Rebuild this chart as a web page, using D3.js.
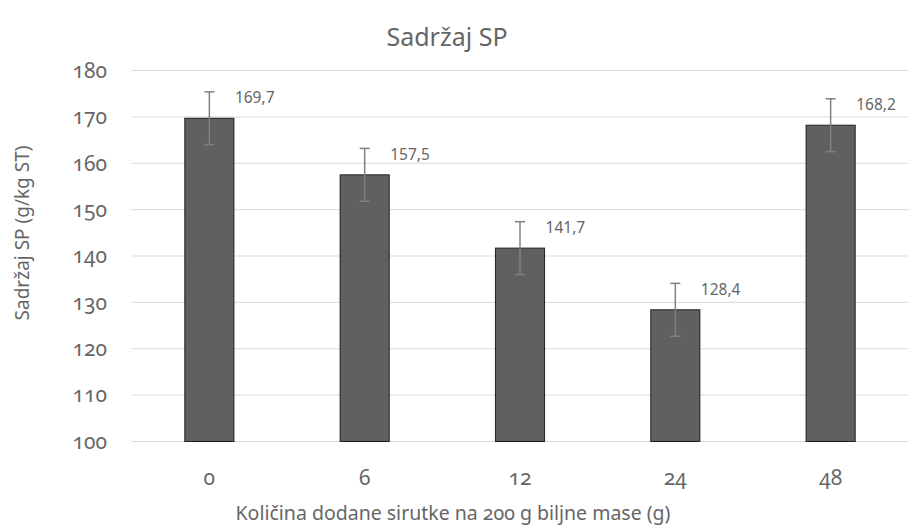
<!DOCTYPE html>
<html>
<head>
<meta charset="utf-8">
<script src="https://cdn.jsdelivr.net/npm/d3@7/dist/d3.min.js"></script>
<style>
  html, body { margin: 0; padding: 0; background: #fff; }
  svg { display: block; }
  .tick-old { font-variant-numeric: oldstyle-nums; font-feature-settings: "onum" 1; }
</style>
</head>
<body>
<svg id="chart" width="912" height="526"></svg>
<script>
const categories = ["0", "6", "12", "24", "48"];
const values = [169.7, 157.5, 141.7, 128.4, 168.2];
const errors = [5.7, 5.7, 5.7, 5.7, 5.7];
const dataLabels = ["169,7", "157,5", "141,7", "128,4", "168,2"];
const yTicks = [100, 110, 120, 130, 140, 150, 160, 170, 180];
const titleText = "Sadržaj SP";
const xTitle = "Količina dodane sirutke na 200 g biljne mase (g)";
const yTitle = "Sadržaj SP (g/kg ST)";

const svg = d3.select("#chart");
const fontFam = "'Noto Sans', 'Open Sans', sans-serif";
const textColor = "#666666";

const plot = { left: 131.7, right: 908.3, top: 70.5, bottom: 441.5 };

const x = d3.scaleBand().domain(categories).range([plot.left, plot.right]).padding(0);
const y = d3.scaleLinear().domain([100, 180]).range([plot.bottom, plot.top]);
const barW = x.bandwidth() * 0.316;

// gridlines
svg.append("g").selectAll("line").data(yTicks).join("line")
  .attr("x1", plot.left).attr("x2", plot.right)
  .attr("y1", d => y(d)).attr("y2", d => y(d))
  .attr("stroke", "#d9d9d9").attr("stroke-width", 1);

// y tick labels
svg.append("g").selectAll("text").data(yTicks).join("text")
  .attr("class", "tick-old")
  .attr("x", 107).attr("y", d => y(d))
  .attr("dy", "0.35em")
  .attr("text-anchor", "end")
  .attr("font-family", fontFam).attr("font-size", 21)
  .attr("fill", textColor)
  .text(d => d);

// bars
const data = categories.map((c, i) => ({ c, v: values[i], e: errors[i], l: dataLabels[i] }));
svg.append("g").selectAll("rect").data(data).join("rect")
  .attr("x", d => x(d.c) + x.bandwidth() / 2 - barW / 2)
  .attr("y", d => y(d.v))
  .attr("width", barW)
  .attr("height", d => y(100) - y(d.v))
  .attr("fill", "#606060")
  .attr("stroke", "#1f1f1f").attr("stroke-width", 1);

// error bars
const eg = svg.append("g").attr("stroke", "#808080").attr("stroke-width", 1.5);
data.forEach(d => {
  const cx = x(d.c) + x.bandwidth() / 2;
  eg.append("line").attr("x1", cx).attr("x2", cx).attr("y1", y(d.v + d.e)).attr("y2", y(d.v - d.e));
  eg.append("line").attr("x1", cx - 5).attr("x2", cx + 5).attr("y1", y(d.v + d.e)).attr("y2", y(d.v + d.e));
  eg.append("line").attr("x1", cx - 5).attr("x2", cx + 5).attr("y1", y(d.v - d.e)).attr("y2", y(d.v - d.e));
});

// data labels
svg.append("g").selectAll("text").data(data).join("text")
  .attr("x", d => x(d.c) + x.bandwidth() / 2 + barW / 2 + 1)
  .attr("y", d => y(d.v) - 15)
  .attr("font-family", fontFam).attr("font-size", 15.5)
  .attr("fill", textColor)
  .text(d => d.l);

// x tick labels
svg.append("g").selectAll("text").data(categories).join("text")
  .attr("class", "tick-old")
  .attr("x", d => x(d) + x.bandwidth() / 2)
  .attr("y", 485)
  .attr("text-anchor", "middle")
  .attr("font-family", fontFam).attr("font-size", 21)
  .attr("fill", textColor)
  .text(d => d);

// title
svg.append("text")
  .attr("x", 447).attr("y", 46)
  .attr("text-anchor", "middle")
  .attr("font-family", fontFam).attr("font-size", 25)
  .attr("fill", textColor)
  .text(titleText);

// x axis title
svg.append("text")
  .attr("class", "tick-old")
  .attr("x", 453).attr("y", 520)
  .attr("text-anchor", "middle")
  .attr("font-family", fontFam).attr("font-size", 19.5)
  .attr("fill", textColor)
  .text(xTitle);

// y axis title
svg.append("text")
  .attr("transform", "translate(29,233) rotate(-90)")
  .attr("text-anchor", "middle")
  .attr("font-family", fontFam).attr("font-size", 19)
  .attr("fill", textColor)
  .text(yTitle);
</script>
</body>
</html>
